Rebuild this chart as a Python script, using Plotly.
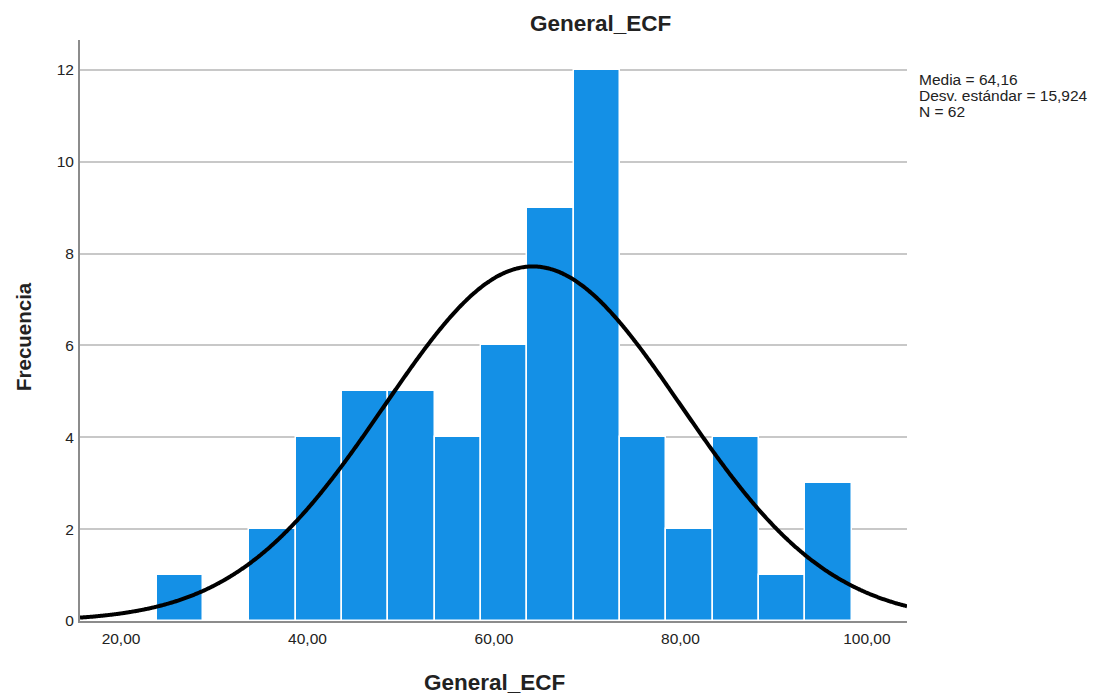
import numpy as np
import plotly.graph_objects as go

# Histogram data
bin_start = 23.83
bin_width = 4.97
counts = [1, 0, 2, 4, 5, 5, 4, 6, 9, 12, 4, 2, 4, 1, 3]
mean = 64.16
std = 15.924
n = 62

x_ticks = [20, 40, 60, 80, 100]
x_tick_labels = ["20,00", "40,00", "60,00", "80,00", "100,00"]
y_ticks = [0, 2, 4, 6, 8, 10, 12]
stats_lines = ["Media = 64,16", "Desv. estándar = 15,924", "N = 62"]

centers = [bin_start + bin_width * (i + 0.5) for i in range(len(counts))]

xr = [15.6, 104.3]
xs = np.linspace(xr[0], xr[1], 600)
ys = n * bin_width / (std * np.sqrt(2 * np.pi)) * np.exp(-0.5 * ((xs - mean) / std) ** 2)

# plot area in page pixels: left 80, right 907, top 40, bottom 621
PL, PR, PT, PB = 80, 907, 40, 621
def px_x(v):
    return (v - PL) / (PR - PL)
def px_y(v):
    return (PB - v) / (PB - PT)

fig = go.Figure()
fig.add_trace(go.Bar(
    x=centers, y=counts, width=bin_width,
    marker=dict(color="#1490E6", line=dict(color="white", width=1.5)),
    showlegend=False, hoverinfo="skip",
))
fig.add_trace(go.Scatter(
    x=xs, y=ys, mode="lines", line=dict(color="black", width=4, shape="spline"),
    showlegend=False, hoverinfo="skip",
))

annotations = [
    dict(text="<b>General_ECF</b>", x=px_x(600), y=px_y(24), font=dict(size=22.5)),
    dict(text="<b>General_ECF</b>", x=px_x(494), y=px_y(682), font=dict(size=22.5)),
    dict(text="<b>Frecuencia</b>", x=px_x(23), y=px_y(336), font=dict(size=20.5), textangle=-90),
]
for i, (line, ypx) in enumerate(zip(stats_lines, [80, 96, 111.5])):
    annotations.append(dict(text=line, x=px_x(917), y=px_y(ypx), xanchor="left",
                            font=dict(size=15.5)))
for a in annotations:
    a.setdefault("xanchor", "center")
    a.update(xref="paper", yref="paper", showarrow=False, yanchor="middle")
    a["font"]["color"] = "#222222"

fig.update_layout(
    width=1109, height=697,
    margin=dict(l=72, r=210, t=32, b=84),
    plot_bgcolor="white", paper_bgcolor="white",
    font=dict(family="Liberation Sans, Arial, sans-serif", color="#222222", size=15),
    bargap=0,
    xaxis=dict(
        range=xr, tickvals=x_ticks, ticktext=x_tick_labels,
        showgrid=False, showline=True, linecolor="#8c8c8c", linewidth=2,
        ticks="", zeroline=False, tickfont=dict(size=15.5), ticklabelstandoff=2,
    ),
    yaxis=dict(
        range=[0, 12.65], tickvals=y_ticks, ticktext=[str(v) for v in y_ticks],
        showgrid=True, gridcolor="#c8c8c8", gridwidth=1.5,
        showline=True, linecolor="#8c8c8c", linewidth=2,
        ticks="", zeroline=False, tickfont=dict(size=15.5), ticklabelstandoff=1,
    ),
    annotations=annotations,
)

fig.write_html("out.html")
